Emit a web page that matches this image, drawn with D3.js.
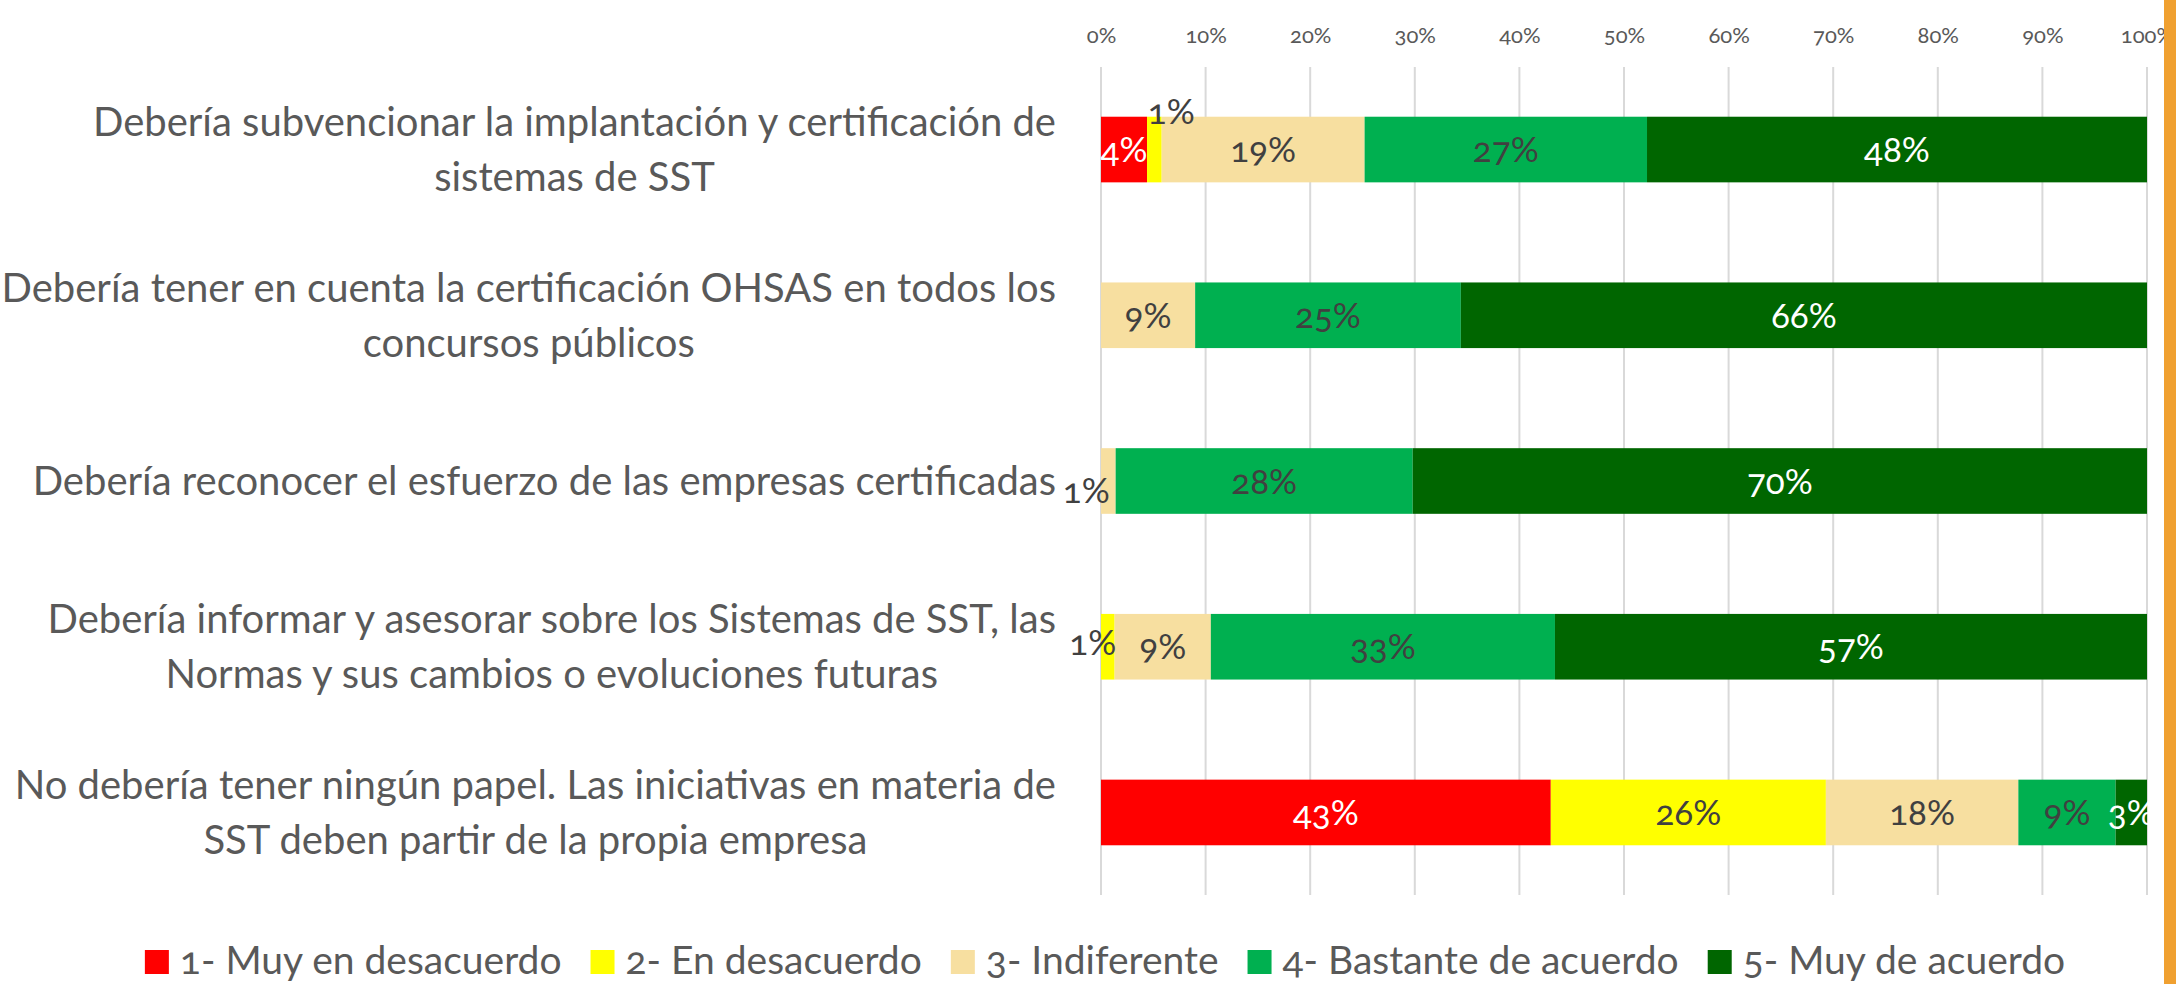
<!DOCTYPE html>
<html>
<head>
<meta charset="utf-8">
<script src="https://cdn.jsdelivr.net/npm/d3@7"></script>
<style>
  body { margin: 0; background: #fff; }
  svg text { font-family: Lato, "Open Sans", sans-serif; font-variant-numeric: oldstyle-nums; }
</style>
</head>
<body>
<div id="barChart"></div>
<script>
// data
var categories = [
  ["Debería subvencionar la implantación y certificación de", "sistemas de SST"],
  ["Debería tener en cuenta la certificación OHSAS en todos los", "concursos públicos"],
  ["Debería reconocer el esfuerzo de las empresas certificadas"],
  ["Debería informar y asesorar sobre los Sistemas de SST, las", "Normas y sus cambios o evoluciones futuras"],
  ["No debería tener ningún papel. Las iniciativas en materia de", "SST deben partir de la propia empresa"]
];
var seriesNames = ["1- Muy en desacuerdo", "2- En desacuerdo", "3- Indiferente", "4- Bastante de acuerdo", "5- Muy de acuerdo"];
var muyDesacuerdo = [4.4, 0, 0, 0, 43.0];
var desacuerdo = [1.4, 0, 0, 1.3, 26.3];
var indiferente = [19.4, 9.0, 1.4, 9.2, 18.4];
var bastante = [27.0, 25.4, 28.4, 32.9, 9.3];
var muyAcuerdo = [47.8, 65.6, 70.2, 56.6, 3.0];
var tickValues = [0, 10, 20, 30, 40, 50, 60, 70, 80, 90, 100];

var colors = ["#FF0000", "#FFFF00", "#F7DFA0", "#00B050", "#006600"];
var labelColors = ["#FFFFFF", "#404040", "#404040", "#404040", "#FFFFFF"];
// hand-moved labels of tiny segments (row-series) -> [dx, dy]
var labelNudge = {"0-1": [17, -38], "2-2": [-22, 9], "3-1": [-15, -4]};

var width = 2176, height = 984;
var svg = d3.select("#barChart").append("svg")
  .attr("width", width).attr("height", height);

var seriesData = [muyDesacuerdo, desacuerdo, indiferente, bastante, muyAcuerdo];
var rows = categories.map(function(c, i) {
  var o = {idx: i};
  seriesData.forEach(function(s, j) { o["s" + j] = s[i]; });
  return o;
});
var stack = d3.stack().keys(["s0", "s1", "s2", "s3", "s4"])(rows);

var x = d3.scaleLinear().domain([0, 100]).range([1101, 2147]);
var y = d3.scaleBand().domain(d3.range(categories.length)).range([67, 895])
  .paddingInner(0.604).paddingOuter(0.3);

// gridlines
svg.append("g").selectAll("line").data(tickValues).enter().append("line")
  .attr("x1", function(d) { return x(d); }).attr("x2", function(d) { return x(d); })
  .attr("y1", 67).attr("y2", 895)
  .style("stroke", "#D9D9D9").style("stroke-width", 2);

// top axis labels
var axis = svg.append("g").attr("transform", "translate(0,43)")
  .call(d3.axisTop(x).tickValues(tickValues).tickSize(0).tickPadding(0)
    .tickFormat(function(d) { return d + "%"; }));
axis.select(".domain").remove();
axis.selectAll("text").style("font-size", "22px").style("fill", "#595959")
  .attr("dy", 0);

// bars
var layers = svg.append("g").selectAll("g").data(stack).enter().append("g")
  .style("fill", function(d, i) { return colors[i]; });
layers.selectAll("rect").data(function(d) { return d; }).enter().append("rect")
  .attr("x", function(d) { return x(d[0]); })
  .attr("y", function(d, i) { return y(i); })
  .attr("width", function(d) { return x(d[1]) - x(d[0]); })
  .attr("height", y.bandwidth());

// data labels
stack.forEach(function(layer, j) {
  svg.append("g").selectAll("text").data(layer.filter(function(d) { return d[1] - d[0] > 0; }))
    .enter().append("text")
    .attr("x", function(d) {
      var n = labelNudge[d.data.idx + "-" + j];
      return (x(d[0]) + x(d[1])) / 2 + (n ? n[0] : 0);
    })
    .attr("y", function(d) {
      var n = labelNudge[d.data.idx + "-" + j];
      return y(d.data.idx) + y.bandwidth() / 2 + (n ? n[1] : 0);
    })
    .attr("dy", "0.36em")
    .attr("text-anchor", "middle")
    .style("font-size", "35px")
    .style("fill", function(d) { return labelNudge[d.data.idx + "-" + j] ? "#404040" : labelColors[j]; })
    .text(function(d) { return Math.round(d[1] - d[0]) + "%"; });
});

// category labels (centered block, right edge near axis)
var catG = svg.append("g");
categories.forEach(function(lines, i) {
  var g = catG.append("g");
  var cy = y(i) + y.bandwidth() / 2;
  var lh = 55;
  var t = g.selectAll("text").data(lines).enter().append("text")
    .attr("y", function(d, k) { return cy + (k - (lines.length - 1) / 2) * lh; })
    .attr("dy", "0.35em")
    .attr("text-anchor", "middle")
    .style("font-size", "40px").style("fill", "#595959")
    .text(function(d) { return d; });
  var maxW = d3.max(t.nodes(), function(n) { return n.getComputedTextLength(); });
  t.attr("x", 1056 - maxW / 2);
});

// legend
var legend = svg.append("g");
var lx = 0;
seriesNames.forEach(function(name, i) {
  var item = legend.append("g").attr("transform", "translate(" + lx + ",0)");
  item.append("rect").attr("x", 0).attr("y", -12).attr("width", 24).attr("height", 24)
    .style("fill", colors[i]);
  var t = item.append("text").attr("x", 35).attr("dy", "0.3em")
    .style("font-size", "39px").style("fill", "#595959").text(name);
  lx += 35 + t.node().getComputedTextLength() + 29;
});
lx -= 29;
legend.attr("transform", "translate(" + (1105 - lx / 2) + ",962)");

// slide border on the right
svg.append("rect").attr("x", 2164).attr("y", 0).attr("width", 12).attr("height", height)
  .style("fill", "#F0A030");
</script>
</body>
</html>
